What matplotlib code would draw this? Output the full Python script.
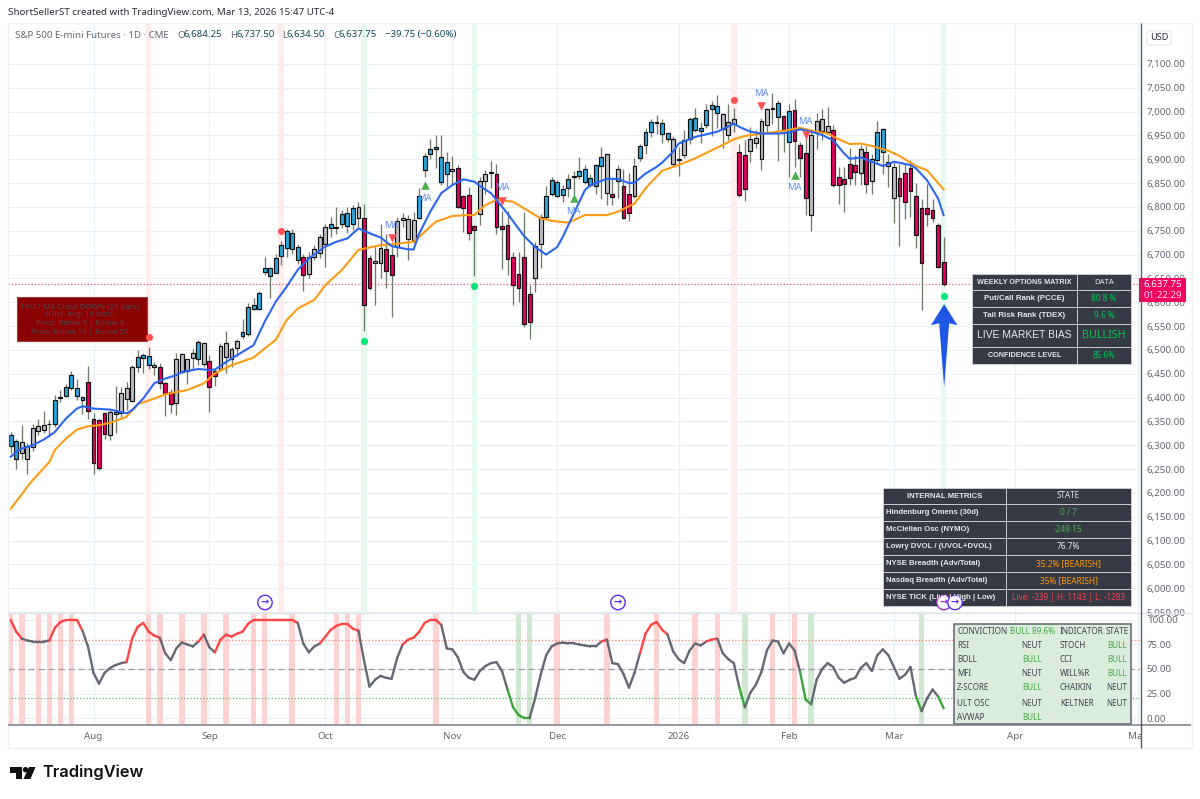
import matplotlib
matplotlib.use("Agg")
import matplotlib.pyplot as plt
from matplotlib.patches import Rectangle, Polygon, Circle, FancyBboxPatch
from matplotlib.collections import LineCollection

plt.rcParams['font.family'] = ['Noto Sans', 'DejaVu Sans']

# ---------- OHLC data ----------
high = [6327,6314,6342,6304,6344,6356,6372,6353,6405,6416,
6428,6456,6440,6403,6466,6367,6356,6370,6374,6425,
6423,6432,6468,6500,6493,6507,6475,6473,6433,6419,
6494,6493,6482,6503,6521,6517,6489,6461,6514,6540,
6507,6524,6564,6598,6610,6624,6695,6674,6702,6729,
6753,6753,6723,6702,6706,6720,6744,6765,6779,6799,
6793,6799,6804,6811,6806,6699,6718,6764,6744,6722,
6779,6788,6783,6790,6839,6914,6942,6951,6951,6916,
6907,6888,6825,6841,6762,6862,6877,6897,6891,6792,
6792,6705,6705,6789,6636,6727,6786,6844,6862,6857,
6846,6869,6876,6904,6888,6869,6891,6926,6912,6860,
6888,6880,6871,6902,6933,6965,6984,6993,6984,6958,
6948,6926,6961,6988,7007,6979,7017,7023,7035,6998,
7016,7007,6933,6940,6968,6961,6986,7007,7040,7024,
6993,7016,7026,6937,6947,6958,6998,7005,7010,6972,
6883,6883,6923,6909,6930,6928,6912,6981,6965,6911,
6895,6891,6890,6898,6851,6816,6848,6816,6767,6737.5]
body_top = [6321,6309,6307,6299,6337,6341,6342,6345,6394,6402,
6423,6448,6421,6401,6433,6356,6353,6367,6369,6369,
6410,6421,6465,6486,6489,6487,6468,6465,6430,6412,
6482,6491,6480,6494,6516,6514,6477,6455,6508,6514,
6503,6519,6537,6590,6594,6619,6671,6671,6692,6720,
6750,6746,6716,6694,6694,6711,6736,6758,6764,6758,
6785,6788,6797,6800,6776,6692,6687,6713,6712,6700,
6771,6777,6774,6772,6824,6906,6922,6926,6905,6894,
6880,6881,6823,6826,6761,6855,6869,6873,6870,6761,
6762,6694,6659,6694,6618,6718,6778,6824,6857,6853,
6837,6859,6864,6876,6880,6861,6888,6904,6912,6828,
6879,6845,6827,6885,6928,6958,6979,6978,6977,6955,
6943,6900,6941,6984,6987,6965,7003,7013,7011,6996,
6979,6984,6915,6908,6942,6944,6980,7006,7008,7018,
6990,7001,7003,6931,6914,6951,6981,6984,6969,6961,
6863,6858,6891,6889,6921,6915,6901,6958,6963,6895,
6884,6861,6872,6881,6822,6798,6797,6794,6763,6684.25]
body_bot = [6298,6272,6283,6272,6297,6331,6333,6344,6344,6400,
6404,6421,6403,6395,6371,6263,6253,6323,6321,6365,
6368,6398,6393,6465,6484,6468,6465,6430,6410,6386,
6388,6453,6456,6484,6482,6471,6423,6445,6459,6486,
6480,6505,6529,6533,6586,6586,6664,6655,6662,6697,
6713,6711,6688,6657,6660,6694,6704,6723,6755,6756,
6765,6760,6764,6776,6594,6629,6683,6683,6666,6658,
6716,6772,6733,6730,6776,6877,6912,6921,6852,6870,
6876,6799,6798,6745,6752,6785,6854,6872,6757,6753,
6690,6637,6629,6554,6558,6652,6723,6778,6828,6824,
6826,6840,6863,6864,6853,6846,6844,6886,6829,6821,
6854,6776,6788,6823,6902,6929,6957,6977,6953,6942,
6890,6898,6908,6943,6961,6960,6971,7005,6998,6963,
6952,6974,6826,6837,6917,6935,6901,6973,7005,6989,
6963,6937,6939,6903,6818,6784,6957,6960,6957,6847,
6847,6849,6860,6874,6872,6849,6855,6898,6916,6887,
6818,6823,6810,6834,6741,6682,6786,6777,6675,6637.75]
low = [6284,6251,6272,6239,6288,6321,6326,6318,6339,6390,
6402,6417,6395,6365,6356,6239,6249,6313,6311,6325,
6360,6374,6391,6453,6452,6460,6447,6419,6362,6368,
6363,6451,6428,6458,6468,6465,6370,6424,6458,6451,
6465,6487,6522,6530,6584,6584,6657,6608,6661,6678,
6695,6702,6681,6624,6650,6688,6692,6674,6737,6744,
6755,6746,6751,6758,6540,6626,6594,6650,6629,6570,
6695,6758,6688,6724,6775,6863,6901,6881,6846,6842,
6846,6797,6748,6731,6656,6762,6828,6839,6743,6669,
6657,6594,6601,6548,6523,6622,6673,6774,6823,6820,
6811,6821,6825,6859,6849,6841,6828,6817,6804,6804,
6818,6774,6771,6818,6897,6911,6946,6954,6935,6937,
6888,6865,6902,6933,6958,6935,6965,6949,6965,6923,
6940,6958,6821,6813,6895,6923,6877,6958,6975,6897,
6916,6863,6883,6862,6783,6749,6921,6940,6956,6842,
6807,6790,6846,6846,6846,6830,6828,6891,6870,6841,
6767,6718,6774,6779,6713,6583,6761,6769,6671,6634.5]
candle_kind = ("bbggggggbg" "bbbbccccgg" "gggbbbgccc" "ggggbgccgg" "ggbbbbbbbb"
               "bbbcggggbg" "bbbgccggcc" "ggggbbbbbb" "gccccgggcc" "cccccggbbb"
               "bbgbbbbbgc" "gccgbbbbbb" "gggbbbbbbg" "ggccgggggb" "cbcccggggc"
               "ccccgcgbbg" "gccccccccc")

# ---------- moving averages ----------
ma_fast_bar = [0,1,2,4,6,8,10,12,13,15,18,21,22,24,26,28,30,31,34,36,37,40,43,44,46,48,50,52,54,57,59,61,63,65,67,
               69,72,73,74,76,78,80,82,84,85,87,88,90,93,95,97,99,100,102,104,105,108,110,112,113,115,117,
               118,120,121,124,128,129,131,132,134,136,139,141,143,145,147,149,151,152,154,156,158,160,163,164,166,168,169]
ma_fast_val = [6276,6286,6293,6300,6312,6328,6356,6377,6382,6377,6375,6367,6374,6398,6430,6440,6447,6454,6460,6458,6459,6482,6503,6510,6559,6601,6633,6668,6692,6717,6727,6734,6755,6745,6736,
               6718,6711,6711,6744,6790,6829,6846,6858,6853,6844,6829,6815,6786,6739,6716,6700,6716,6737,6786,6835,6846,6859,6859,6850,6851,6870,6884,
               6893,6916,6933,6947,6958,6963,6975,6968,6958,6954,6954,6956,6963,6958,6951,6940,6912,6901,6904,6895,6886,6895,6888,6881,6856,6818,6783]
ma_slow_bar = [0,2,3,4,7,8,10,12,14,16,18,21,23,26,28,32,35,37,40,44,46,48,50,52,55,57,60,63,65,67,
               70,73,75,77,80,83,84,86,88,91,93,96,98,101,104,108,110,113,115,117,
               118,121,124,127,129,131,133,136,139,143,146,148,150,152,154,156,159,161,164,166,169]
ma_slow_val = [6167,6197,6213,6227,6265,6290,6314,6333,6340,6342,6347,6360,6386,6398,6407,6416,6430,6451,6468,6484,6503,6521,6563,6587,6605,6636,6668,6710,6715,6720,
               6723,6727,6748,6769,6781,6783,6783,6804,6815,6811,6797,6776,6771,6767,6783,6783,6790,6807,6839,6864,
               6876,6888,6902,6919,6930,6942,6949,6954,6958,6966,6958,6954,6942,6932,6933,6928,6918,6907,6886,6877,6837]

# ---------- oscillator ----------
osc = [100,88,81,79,78,78,78,79,92,98,
100,100,100,89,73,46,35,46,51,54,
56,57,81,93,97,88,84,82,66,59,
71,77,75,73,78,85,72,67,80,85,
83,86,88,96,100,100,100,100,100,100,
100,100,97,76,67,73,76,83,90,94,
96,96,91,89,59,32,39,43,41,40,
61,75,80,82,88,97,100,100,95,71,
70,62,47,41,39,48,53,56,57,48,
29,11,3,0,0,20,44,64,73,76,
77,76,76,75,74,73,73,78,80,56,
55,45,31,46,66,86,95,98,90,85,
68,60,56,69,76,74,78,80,81,66,
60,56,31,11,26,34,47,69,79,78,
66,76,69,47,19,14,39,50,56,52,
41,36,39,41,51,56,48,64,70,64,
52,40,44,52,22,7,20,29,22,10]
osc_red_bars = [0,2,5,7,9,11,25,27,31,35,39,44,46,51,59,61,63,77,99,108,117,124,128,138,142]
osc_green_bars = [92,94,133,145,165]

# ---------- signals ----------
band_red_bars = [25,49,131]
band_green_bars = [64,84,169]
dot_red = [(25,6527),(49,6749),(131,7025)]
dot_green = [(64,6519),(84,6635),(169,6613)]
tri_up = [(75,6847),(102,6818),(142,6867)]
tri_down = [(69,6735),(89,6812),(136,7012),(144,6952)]
ma_labels = [(69,6761),(75,6818),(89,6840),(102,6790),(136,7038),(144,6979),(142,6840)]
last_price = 6637.75

month_bars = [15,36,57,80,99,121,141,160,182,204.2]
month_labels = ['Aug','Sep','Oct','Nov','Dec','2026','Feb','Mar','Apr','May']
price_ticks = list(range(5950,7101,50))
osc_ticks = [0,25,50,75,100]

# ---------- layout ----------
W,H = 1200,799
fig = plt.figure(figsize=(W/100,H/100),dpi=100,facecolor='white')
def box(l,t,r,b):
    return [l/W,1-b/H,(r-l)/W,(b-t)/H]
ax = fig.add_axes(box(8,23,1140,613))
ax2 = fig.add_axes(box(8,613,1140,724))
ov = fig.add_axes([0,0,1,1],zorder=10)
ov.set_xlim(0,W); ov.set_ylim(H,0); ov.axis('off'); ov.patch.set_alpha(0)

GRID='#e8eff5'; TXT='#62656f'
xlim=(-0.49,204.58)
for a in (ax,ax2):
    a.set_xlim(*xlim)
    for s in a.spines.values(): s.set_visible(False)
    a.yaxis.tick_right()
    a.tick_params(length=0,labelsize=7.0,labelcolor=TXT,pad=4.8)
    a.set_axisbelow(True)
    a.grid(True,color=GRID,lw=0.8)
    a.set_xticks(month_bars)
ax.tick_params(axis='x',labelbottom=False)
ax.set_ylim(5948.1,7186)
ax.set_yticks(price_ticks,[f'{p:,.2f}' for p in price_ticks])
ax2.set_ylim(-6.1,107.1)
ax2.set_yticks(osc_ticks,[f'{p:.2f}' for p in osc_ticks])
ax2.set_xticklabels(month_labels)
ax2.tick_params(axis='x',pad=6)
for lab in ax2.get_xticklabels():
    if lab.get_text()=='2026': lab.set_fontweight('bold')

# bands
for b in band_red_bars: ax.axvspan(b-.5,b+.5,color='#ffecec',lw=0,zorder=1)
for b in band_green_bars: ax.axvspan(b-.5,b+.5,color='#e6f9ee',lw=0,zorder=1)
for b in osc_red_bars: ax2.axvspan(b-.5,b+.5,color='#ffd2d2',lw=0,zorder=1)
for b in osc_green_bars: ax2.axvspan(b-.5,b+.5,color='#cfe8cf',lw=0,zorder=1)

# price line
ax.axhline(last_price,color='#f06292',lw=0.95,ls=(0,(1,1.5)),zorder=2)

# red note box
ax.add_patch(Rectangle((17,297),130,44,transform=ov.transData,fc='#8b0000',ec='#a33a3a',lw=0.8,zorder=3))
for y,t in zip([306.5,315,323.5,332],['10/21 MA Cross DOWN (25 bars)','(Hist. Avg: 16 bars)','Price: Below 5 | Below 9','Price: Below 19 | Below 50']):
    ax.text(80,y,t,transform=ov.transData,ha='center',va='center',fontsize=5.7,color='#4a4a50',zorder=3.5)

# candles
body_colors={'b':'#29a9df','g':'#bcbec4','c':'#e6005f'}
n=len(high)
bars=list(range(n))
ax.vlines(bars,low,high,color='#717b6c',lw=0.95,zorder=4)
ax.bar(bars,[t-b for t,b in zip(body_top,body_bot)],bottom=body_bot,width=0.7,
       color=[body_colors[k] for k in candle_kind],edgecolor='#111111',linewidth=0.85,zorder=5)

# MAs
ax.plot(ma_slow_bar,ma_slow_val,color='#ff9a14',lw=1.5,zorder=6,solid_joinstyle='round')
ax.plot(ma_fast_bar,ma_fast_val,color='#2b66f0',lw=1.5,zorder=6,solid_joinstyle='round')

# markers
ax.scatter(*zip(*dot_red),s=26,color='#ff5252',lw=0,zorder=8)
ax.scatter(*zip(*dot_green),s=26,color='#00e676',lw=0,zorder=8)
ax.scatter(*zip(*tri_up),s=38,marker='^',color='#4caf50',lw=0,zorder=8)
ax.scatter(*zip(*tri_down),s=38,marker='v',color='#ff5252',lw=0,zorder=8)
for x,y in ma_labels:
    ax.text(x,y,'MA',ha='center',va='center',fontsize=6.8,color='#5b8cf5',zorder=8)

# big arrow
ax.add_patch(Polygon([(169.1,6596),(171.5,6552),(170.0,6556),(169.1,6422),(168.2,6556),(166.7,6552)],
                     closed=True,fc='#1e56e6',ec='none',zorder=9))

# oscillator
ax2.axhline(80,color='#ff8a80',lw=1.0,ls=(0,(1,1.4)),zorder=2)
ax2.axhline(50,color='#9a9da6',lw=0.9,ls=(0,(5,3)),zorder=2)
ax2.axhline(20,color='#5cb85c',lw=0.9,ls=(0,(1,1.6)),zorder=2)
segs=[];cols=[]
for i in range(n-1):
    s,e=osc[i],osc[i+1]
    segs.append([(i,s),(i+1,e)])
    if e>=80: cols.append('#ff4444')
    elif e<=20 and e<=s: cols.append('#3ba53b')
    else: cols.append('#666873')
ax2.add_collection(LineCollection(segs,colors=cols,linewidths=1.7,capstyle='round',zorder=5))

# frame lines
def hl(y,x0,x1,c,lw=0.8): ov.plot([x0,x1],[y,y],color=c,lw=lw,solid_capstyle='butt')
def vl(x,y0,y1,c,lw=0.8): ov.plot([x,x],[y0,y1],color=c,lw=lw,solid_capstyle='butt')
ov.add_patch(Rectangle((1141,725),50,22,fc='white',ec='none'))
ov.add_patch(Rectangle((8,23),1184,725,fc='none',ec='#eef1f4',lw=1.0))
hl(613,8,1191,'#dfe3ea',1.0)
hl(724.5,8,1191,'#777a82',1.1)
vl(1140.5,23,748,'#5a5d66',1.0)

# header
ov.text(8,12.5,'ShortSellerST created with TradingView.com, Mar 13, 2026 15:47 UTC-4',fontsize=7.05,color='#2a2e39',va='center')
ov.text(15,35,'S&P 500 E-mini Futures · 1D · CME',fontsize=6.95,color='#62656f',va='center')
for x,l,v,off in [(177,'O','6,684.25',6.2),(230,'H','6,737.50',6.2),(282,'L','6,634.50',4.6),(333,'C','6,637.75',5.8)]:
    ov.text(x,35,l,fontsize=6.95,color='#62656f',va='center')
    ov.text(x+off,35,v,fontsize=6.95,color='#114a57',va='center')
ov.text(385,35,'−39.75 (−0.60%)',fontsize=6.95,color='#114a57',va='center')

# USD
ov.add_patch(FancyBboxPatch((1147,31),24,14,boxstyle='round,pad=0,rounding_size=2',fc='white',ec='#e4e7ec',lw=0.8))
ov.text(1159,38,'USD',fontsize=6.6,color='#2a2e39',ha='center',va='center')

# price label
ov.add_patch(Rectangle((1139,278),47,24,fc='#f5005f',ec='none'))
ov.text(1162.5,284.5,'6,637.75',fontsize=7.0,color='white',ha='center',va='center')
ov.text(1162.5,295.5,'01:22:29',fontsize=7.0,color='#ffd9e6',ha='center',va='center')

# dark tables
TAB='#363a45'; LINE='#c8cbd2'; WHITE='#e6e7ea'; GRN='#00c853'
BOLD='Liberation Sans'
def table(x0,xm,x1,ys,rows,left=False):
    for i,row in enumerate(rows):
        y0,y1=ys[i],ys[i+1]
        ov.add_patch(Rectangle((x0,y0),xm-x0,y1-y0,fc=TAB,ec=LINE,lw=0.7))
        ov.add_patch(Rectangle((xm,y0),x1-xm,y1-y0,fc=TAB,ec=LINE,lw=0.7))
        l,r,c,fs,fs2,fw=row
        if left and i>0:
            ov.text(x0+2.5,(y0+y1)/2,l,fontsize=fs,color=WHITE,va='center',ha='left',fontweight=fw,family=BOLD)
        else:
            ov.text((x0+xm)/2,(y0+y1)/2,l,fontsize=fs,color=WHITE,va='center',ha='center',fontweight=fw,family=BOLD)
        ov.text((xm+x1)/2,(y0+y1)/2,r,fontsize=fs2,color=c,va='center',ha='center',
                fontweight=fw if i==0 else 'normal',family='Noto Sans')
options_rows=[('WEEKLY OPTIONS MATRIX','DATA',WHITE,5.25,5.6,'bold'),
 ('Put/Call Rank (PCCE)','80.8 %',GRN,5.7,6.0,'bold'),
 ('Tail Risk Rank (TDEX)','9.6 %',GRN,5.7,6.0,'bold'),
 ('LIVE MARKET BIAS','BULLISH',GRN,7.5,7.7,'normal'),
 ('CONFIDENCE LEVEL','85.6%',GRN,5.25,5.8,'bold')]
table(972,1077,1131,[274,290,307,324,347,364],options_rows)
metrics_rows=[('INTERNAL METRICS','STATE',WHITE,5.6,5.8,'bold'),
 ('Hindenburg Omens (30d)','0 / 7','#4caf50',5.6,6.0,'bold'),
 ('McClellan Osc (NYMO)','-249.15','#4caf50',5.6,6.0,'bold'),
 ('Lowry DVOL / (UVOL+DVOL)','76.7%',WHITE,5.6,6.0,'bold'),
 ('NYSE Breadth (Adv/Total)','35.2% [BEARISH]','#ff9800',5.6,6.0,'bold'),
 ('Nasdaq Breadth (Adv/Total)','35% [BEARISH]','#ff9800',5.6,6.0,'bold'),
 ('NYSE TICK (Live | High | Low)','Live: -239 | H: 1143 | L: -1283','#f44350',5.6,5.9,'bold')]
table(883,1006,1131,[488,504,521,538,555,572,589,606],metrics_rows,left=True)

# replay icons
for x,c in [(265,'#5b2df0'),(618,'#5b2df0'),(944,'#a02fc8'),(955,'#5b2df0')]:
    ov.add_patch(Circle((x,602.5),7.2,fc='white',ec=c,lw=1.0))
    ov.text(x,602.5,'→',fontsize=7,color=c,ha='center',va='center',fontweight='bold',family='DejaVu Sans')

# conviction table
ov.add_patch(Rectangle((954,623.5),177,100.5,fc='#dcecdc',ec='#5f6570',lw=1.1))
ind_rows=[('RSI','NEUT','STOCH','BULL'),('BOLL','BULL','CCI','BULL'),('MFI','NEUT','WILL%R','BULL'),
 ('Z-SCORE','BULL','CHAIKIN','NEUT'),('ULT OSC','NEUT','KELTNER','NEUT'),('AVWAP','BULL','','')]
row_y=[645,660,674,688,703,717]
GC='#3f444e'; BG='#43a847'
ov.text(958,631,'CONVICTION',fontsize=5.9,color=GC,va='center')
ov.text(1032,631,'BULL 89.6%',fontsize=5.9,color=BG,va='center',ha='center')
ov.text(1060,631,'INDICATOR',fontsize=5.9,color=GC,va='center')
ov.text(1117,631,'STATE',fontsize=5.9,color=GC,va='center',ha='center')
for y,(a,b,c,d) in zip(row_y,ind_rows):
    ov.text(957,y,a,fontsize=5.8,color=GC,va='center')
    ov.text(1032,y,b,fontsize=5.8,color=BG if b=='BULL' else GC,va='center',ha='center')
    ov.text(1060,y,c,fontsize=5.8,color=GC,va='center')
    ov.text(1117,y,d,fontsize=5.8,color=BG if d=='BULL' else GC,va='center',ha='center')

# TradingView logo
ov.add_patch(Polygon([(10,767),(22,767),(22,779),(16,779),(16,772.5),(10,772.5)],fc='#111',ec='none'))
ov.add_patch(Circle((25.5,769.7),2.7,fc='#111',ec='none'))
ov.add_patch(Polygon([(29,767),(35.5,767),(30.5,779),(23.5,779)],fc='#111',ec='none'))
ov.text(42,772.5,'TradingView',fontsize=11.8,color='#111',va='center',family='Inter',fontweight='semibold')

fig.savefig('out.png',dpi=100)
